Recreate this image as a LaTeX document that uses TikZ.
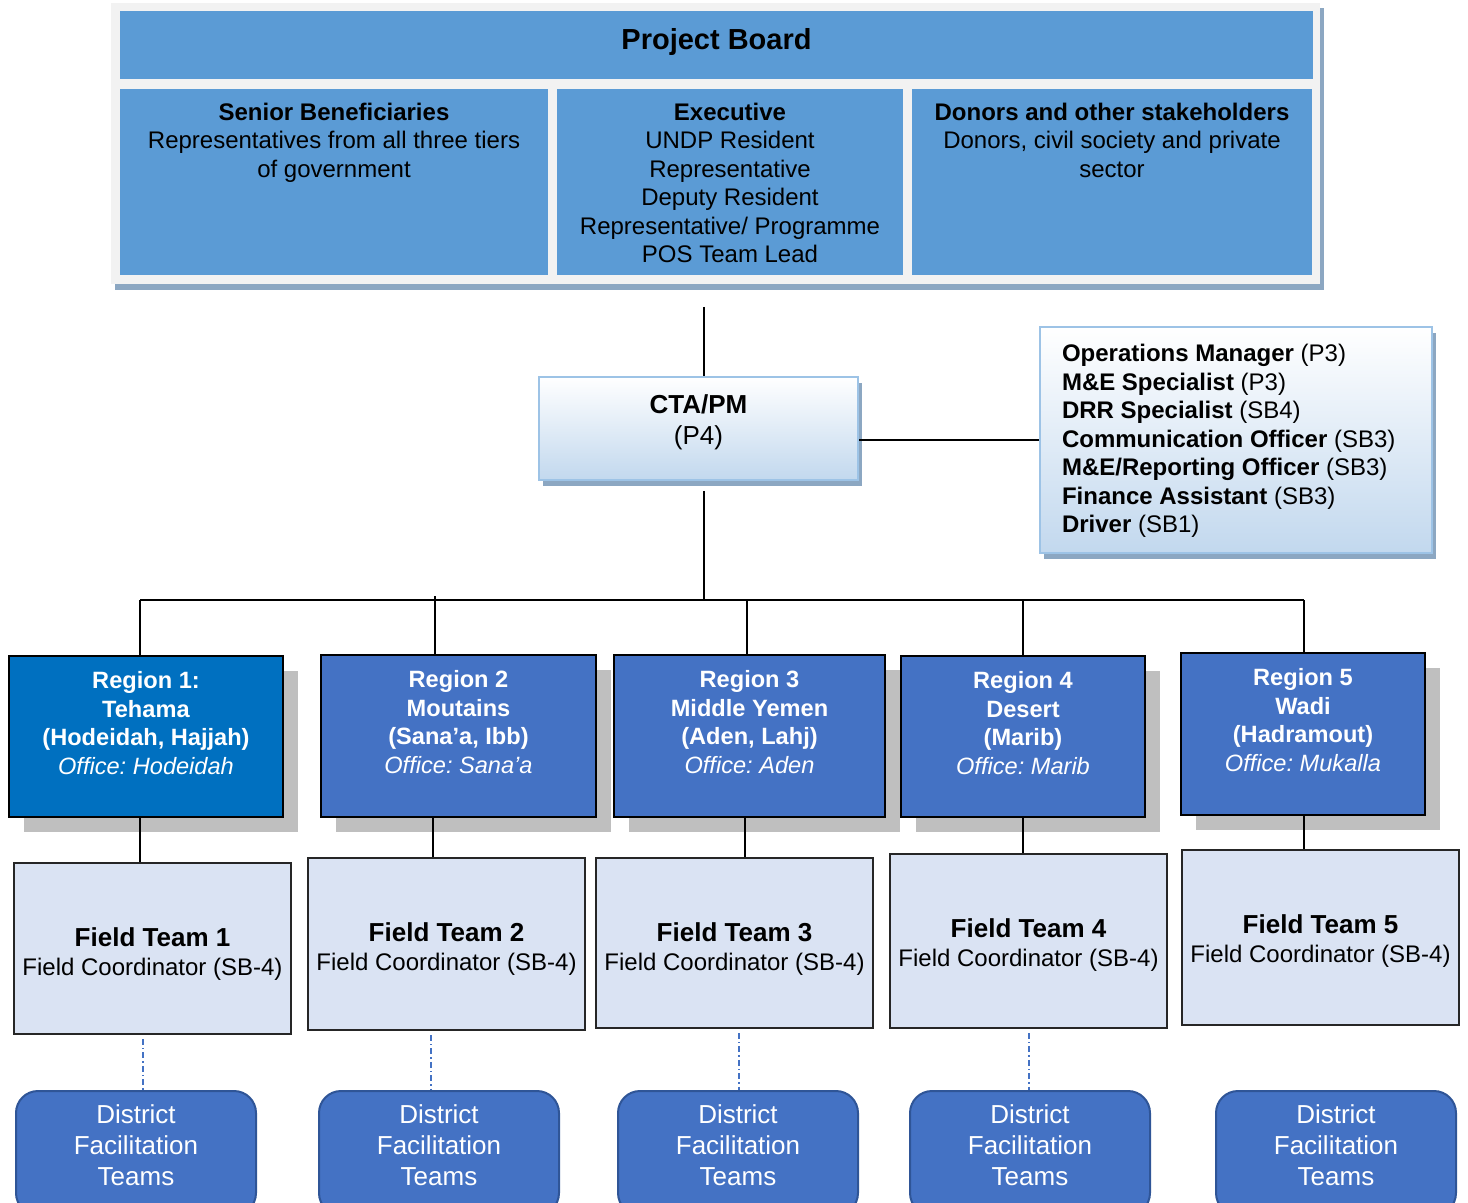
\documentclass[tikz,border=0pt]{standalone}
\usepackage{fontspec}
\setmainfont{Liberation Sans}
\usetikzlibrary{shadows}

% text block at the top of a fixed box: width, height, first baseline, text
\newcommand{\orgtext}[4]{\parbox[c][#2][t]{#1}{\centering\vspace*{\dimexpr#3-0.7\baselineskip\relax}\strut#4}}

\begin{document}
\frenchspacing
\begin{tikzpicture}[
      x=0.5pt, y=-0.5pt,
      board/.style={fill=boardblue, inner sep=0pt, font=\fontsize{12}{14.2}\selectfont},
      cta/.style={draw=ctaline, line width=1pt, top color=white, bottom color=ctabottom,
        inner sep=0pt, font=\fontsize{13}{15.5}\selectfont,
        drop shadow={shadow xshift=2pt, shadow yshift=-3pt, fill=steel, opacity=1}},
      staff/.style={cta, font=\fontsize{12}{14.25}\selectfont},
      region/.style={draw=black, line width=1.2pt, fill=regblue, inner sep=0pt, text=white,
        font=\fontsize{11.8}{14.3}\selectfont,
        drop shadow={shadow xshift=7.5pt, shadow yshift=-7.5pt, fill=shadowgray, opacity=1}},
      field/.style={draw=black!85, line width=1pt, fill=fieldfill, inner sep=0pt,
        font=\fontsize{12}{14.5}\selectfont},
      dft/.style={draw=dftline, line width=1pt, rounded corners=11pt, fill=regblue, text=white,
        inner sep=0pt, font=\fontsize{13}{15.5}\selectfont},
      link/.style={line width=0.75pt, black},
      dotlink/.style={line width=0.6pt, regblue, dash pattern=on 3pt off 1.5pt on 0.7pt off 1.5pt},
    ]
    \definecolor{boardblue}{RGB}{91,155,213}
    \definecolor{boardbg}{RGB}{242,242,242}
    \definecolor{steel}{RGB}{140,167,194}
    \definecolor{ctaline}{RGB}{157,195,230}
    \definecolor{ctabottom}{RGB}{194,216,238}
    \definecolor{reg1}{RGB}{0,112,192}
    \definecolor{regblue}{RGB}{68,114,196}
    \definecolor{shadowgray}{RGB}{191,191,191}
    \definecolor{fieldfill}{RGB}{218,227,243}
    \definecolor{dftline}{RGB}{47,85,151}

    \useasboundingbox (0,0) rectangle (1468,1203);
    \clip (0,0) rectangle (1468,1203);

    % project board frame
    \fill[steel] (115,8) rectangle (1324,290);
    \fill[boardbg] (111,3) rectangle (1320,284);

    \node[board, font=\fontsize{14.5}{17}\selectfont\bfseries] (pb) at (716.5,45)
      {\orgtext{596.5pt}{34pt}{19.25pt}{Project Board}};
    \node[board] (senior) at (334,182) {\orgtext{214pt}{93pt}{15.8pt}{\textbf{Senior Beneficiaries}\\Representatives from all three tiers\\of government}};
    \node[board] (exec) at (730,182) {\orgtext{173pt}{93pt}{15.8pt}{\textbf{Executive}\\UNDP Resident\\Representative\\Deputy Resident\\Representative/ Programme\\POS Team Lead}};
    \node[board] (donors) at (1112,182) {\orgtext{200pt}{93pt}{15.8pt}{\textbf{Donors and other stakeholders}\\Donors, civil society and private\\sector}};

    \node[cta] (cta) at (698.5,428.5) {\orgtext{159.5pt}{51.5pt}{18.2pt}{\textbf{CTA/PM}\\(P4)}};
    \node[staff] (ops) at (1236,440) {\orgtext{196pt}{113pt}{17.3pt}{\raggedright\leftskip=11pt
      \textbf{Operations Manager} (P3)\\
      \textbf{M\&E Specialist} (P3)\\
      \textbf{DRR Specialist} (SB4)\\
      \textbf{Communication Officer} (SB3)\\
      \textbf{M\&E/Reporting Officer} (SB3)\\
      \textbf{Finance Assistant} (SB3)\\
      \textbf{Driver} (SB1)}};

    \node[region, fill=reg1] (r1) at (146,736.5) {\orgtext{137pt}{80.5pt}{16.25pt}{\textbf{Region 1:}\\\textbf{Tehama}\\\textbf{(Hodeidah, Hajjah)}\\\textit{Office: Hodeidah}}};
    \node[region] (r2) at (458.5,736) {\orgtext{137.5pt}{81pt}{16.25pt}{\textbf{Region 2}\\\textbf{Moutains}\\\textbf{(Sana’a, Ibb)}\\\textit{Office: Sana’a}}};
    \node[region] (r3) at (749.5,736) {\orgtext{135.5pt}{81pt}{16.25pt}{\textbf{Region 3}\\\textbf{Middle Yemen}\\\textbf{(Aden, Lahj)}\\\textit{Office: Aden}}};
    \node[region] (r4) at (1023,736.5) {\orgtext{122pt}{80.5pt}{16.25pt}{\textbf{Region 4}\\\textbf{Desert}\\\textbf{(Marib)}\\\textit{Office: Marib}}};
    \node[region] (r5) at (1303,734) {\orgtext{122pt}{81pt}{16.25pt}{\textbf{Region 5}\\\textbf{Wadi}\\\textbf{(Hadramout)}\\\textit{Office: Mukalla}}};

    \foreach \i/\x/\y/\h in {1/152.5/948.5/85.5, 2/446.5/944/86, 3/734.5/943/85, 4/1028.5/941/87, 5/1320.5/937.5/87.5}
      \node[field] (f\i) at (\x,\y) {\orgtext{138.5pt}{\h pt}{41.5pt}{\textbf{\fontsize{13}{14.5}\selectfont Field Team \i}\\Field Coordinator (SB-4)}};

    \foreach \i/\x in {1/136, 2/439, 3/738, 4/1030, 5/1336}
      \node[dft] (d\i) at (\x,1153) {\orgtext{120pt}{62pt}{16.2pt}{District\\Facilitation\\Teams}};

    % connectors
    \coordinate (top) at (704,307);
    \coordinate (bus) at (704,600);
    \draw[link] (top) -- (top |- cta.north);
    \draw[link, shorten <=5pt] (top |- cta.south) -- (bus);
    \draw[link] (ops.west) -- (ops.west -| cta.east);

    \foreach \i/\a in {1/140, 2/435, 3/747, 4/1023, 5/1304}{
      \coordinate (t\i) at (\a,600);
      \draw[link] (t\i) -- (t\i |- r\i.north);
    }
    \draw[link] (t1) -- (t5);
    \draw[link] (t2) -- ++(0,-4);

    \foreach \i/\b in {1/140, 2/433, 3/745, 4/1023, 5/1304}
      \draw[link] (r\i.south -| \b,0) -- (f\i.north -| \b,0);

    \foreach \i/\c in {1/143, 2/431, 3/739, 4/1029}
      \draw[dotlink, shorten <=2pt] (f\i.south -| \c,0) -- (d\i.north -| \c,0);
  \end{tikzpicture}
\end{document}
